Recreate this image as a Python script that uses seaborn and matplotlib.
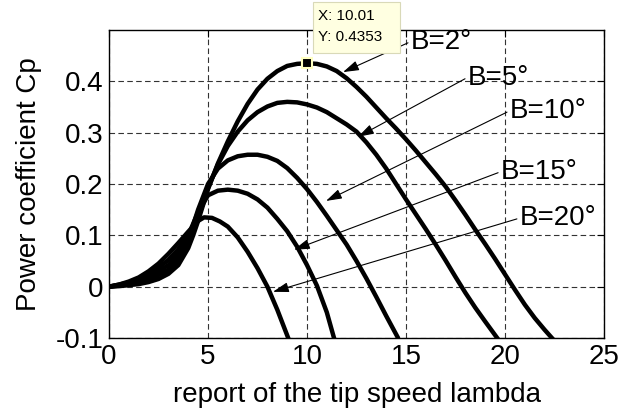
import numpy as np
import pandas as pd
import matplotlib
matplotlib.use("Agg")
import matplotlib.pyplot as plt
import seaborn as sns
from matplotlib.patches import Rectangle

# ---------------- data ----------------
lam_b2 = [0, 0.5, 1, 1.5, 2, 2.5, 3, 3.5, 4, 4.25, 4.5, 5, 5.5, 6, 6.5, 7, 7.5, 8,
          8.5, 9, 9.5, 10.01, 10.5, 11, 11.5, 12, 12.5, 13, 13.5, 14, 14.5, 15,
          15.5, 16, 16.5, 17, 17.5, 18, 18.5, 19, 19.5, 20, 20.5, 21, 21.5, 22, 22.6]
cp_b2 = [0, 0.001, 0.003, 0.005, 0.009, 0.015, 0.025, 0.042, 0.075, 0.1, 0.128,
         0.19, 0.24, 0.283, 0.322, 0.356, 0.384, 0.405, 0.42, 0.43, 0.434, 0.4353,
         0.434, 0.429, 0.42, 0.406, 0.389, 0.37, 0.349, 0.328, 0.308, 0.287, 0.265,
         0.242, 0.219, 0.195, 0.168, 0.14, 0.111, 0.083, 0.054, 0.024, -0.006,
         -0.035, -0.061, -0.084, -0.11]

lam_b5 = [0, 1, 2, 3, 3.5, 4, 4.5, 5, 5.5, 6, 6.5, 7, 7.5, 8, 8.5, 9, 9.5, 10,
          10.5, 11, 11.5, 12, 12.5, 13, 13.5, 14, 14.5, 15, 15.5, 16, 16.5, 17,
          17.5, 18, 18.5, 19, 19.7]
cp_b5 = [0, 0.004, 0.013, 0.033, 0.052, 0.08, 0.135, 0.192, 0.238, 0.274, 0.302,
         0.324, 0.34, 0.351, 0.358, 0.36, 0.359, 0.355, 0.349, 0.34, 0.328, 0.316,
         0.302, 0.281, 0.257, 0.23, 0.2, 0.17, 0.141, 0.112, 0.082, 0.051, 0.019,
         -0.012, -0.041, -0.068, -0.105]

lam_b10 = [0, 1, 2, 3, 3.5, 4, 4.5, 5, 5.5, 6, 6.5, 7, 7.5, 8, 8.5, 9, 9.5, 10,
           10.5, 11, 11.5, 12, 12.5, 13, 13.5, 14, 14.6]
cp_b10 = [0, 0.006, 0.017, 0.042, 0.062, 0.09, 0.15, 0.2, 0.23, 0.246, 0.254,
          0.257, 0.257, 0.253, 0.245, 0.231, 0.212, 0.19, 0.165, 0.138, 0.11,
          0.082, 0.05, 0.016, -0.02, -0.057, -0.1]

lam_b15 = [0, 1, 2, 3, 3.5, 4, 4.5, 5, 5.5, 6, 6.5, 7, 7.5, 8, 8.5, 9, 9.5, 10,
           10.5, 11, 11.4]
cp_b15 = [0, 0.008, 0.022, 0.052, 0.073, 0.1, 0.145, 0.178, 0.187, 0.189, 0.187,
          0.181, 0.17, 0.154, 0.132, 0.108, 0.078, 0.042, 0.002, -0.05, -0.105]

lam_b20 = [0, 0.5, 1, 1.5, 2, 2.5, 3, 3.5, 4, 4.5, 4.8, 5.2, 5.6, 6, 6.5, 7, 7.5,
           8, 8.5, 9.1]
cp_b20 = [0, 0.004, 0.01, 0.018, 0.03, 0.045, 0.064, 0.085, 0.107, 0.128, 0.135,
          0.134, 0.127, 0.117, 0.096, 0.068, 0.036, 0.0, -0.045, -0.105]

pitch_labels = ["B=2°", "B=5°", "B=10°", "B=15°", "B=20°"]
# arrow tip (on curve) and label anchor, in data units
arrow_tip_x = [11.82, 12.58, 10.96, 9.34, 8.28]
arrow_tip_y = [0.418, 0.292, 0.167, 0.072, -0.010]
label_x = [15.1, 17.98, 20.1, 19.65, 20.6]
label_y = [0.475, 0.405, 0.34, 0.222, 0.132]

tip_x, tip_y = 10.01, 0.4353
tip_text = ["X: 10.01", "Y: 0.4353"]

xticks = [0, 5, 10, 15, 20, 25]
xtick_labels = ["0", "5", "10", "15", "20", "25"]
yticks = [-0.1, 0.0, 0.1, 0.2, 0.3, 0.4]
ytick_labels = ["-0.1", "0", "0.1", "0.2", "0.3", "0.4"]

# ---------------- figure ----------------
sns.set_theme(style="white")
plt.rcParams["font.family"] = ["Liberation Sans", "DejaVu Sans"]

fig = plt.figure(figsize=(6.19, 4.12), dpi=100)
ax = fig.add_axes([0.1761, 0.1796, 0.7997, 0.7476])

frames = []
for lab, xs, ys in zip(pitch_labels,
                       [lam_b2, lam_b5, lam_b10, lam_b15, lam_b20],
                       [cp_b2, cp_b5, cp_b10, cp_b15, cp_b20]):
    frames.append(pd.DataFrame({"lambda": xs, "Cp": ys, "B": lab}))
df = pd.concat(frames, ignore_index=True)

sns.lineplot(data=df, x="lambda", y="Cp", hue="B", palette=["black"] * 5,
             estimator=None, sort=False, lw=3.2, legend=False, ax=ax,
             solid_capstyle="round", solid_joinstyle="round", zorder=3)

ax.set_xlim(0, 25)
ax.set_ylim(-0.1, 0.5)
ax.set_xticks(xticks)
ax.set_xticklabels(xtick_labels)
ax.set_yticks(yticks)
ax.set_yticklabels(ytick_labels)
ax.tick_params(direction="in", length=5, width=0.8, top=True, right=True,
               labelsize=20, colors="black", pad=4)
ax.grid(True, ls=(0, (5, 3)), color="#333333", lw=0.8)
for s in ax.spines.values():
    s.set_color("black")
    s.set_linewidth(1.0)

ax.set_xlabel("report of the tip speed lambda", fontsize=20, color="black", labelpad=9)
ax.set_ylabel("Power coefficient Cp", fontsize=20, color="black", labelpad=10)

# annotations (text arrows)
for lab, tx, ty, lx, ly in zip(pitch_labels, arrow_tip_x, arrow_tip_y, label_x, label_y):
    ax.annotate("", xy=(tx, ty), xytext=(lx, ly),
                arrowprops=dict(arrowstyle="-|>,head_length=0.8,head_width=0.25",
                                color="black", lw=0.8, shrinkA=0, shrinkB=0),
                zorder=4)
    ax.text(lx + 0.15, ly + 0.002, lab, fontsize=20, ha="left", va="center",
            color="black", zorder=5)

# data tip
ax.plot([tip_x], [tip_y], marker="s", ms=7, color="black", mec="#FFFFC0", mew=1.5,
        zorder=6, clip_on=False)
fig.patches.append(Rectangle((313 / 619, 1 - 53 / 412), 87 / 619, 51 / 412,
                             transform=fig.transFigure, facecolor="#FFFFE1",
                             edgecolor="#D9D9B8", lw=0.8, zorder=10))
fig.text(318 / 619, 1 - 16 / 412, tip_text[0], fontsize=11, ha="left", va="center",
         color="black", zorder=11)
fig.text(318 / 619, 1 - 37 / 412, tip_text[1], fontsize=11, ha="left", va="center",
         color="black", zorder=11)

fig.savefig("out.png", dpi=100)
